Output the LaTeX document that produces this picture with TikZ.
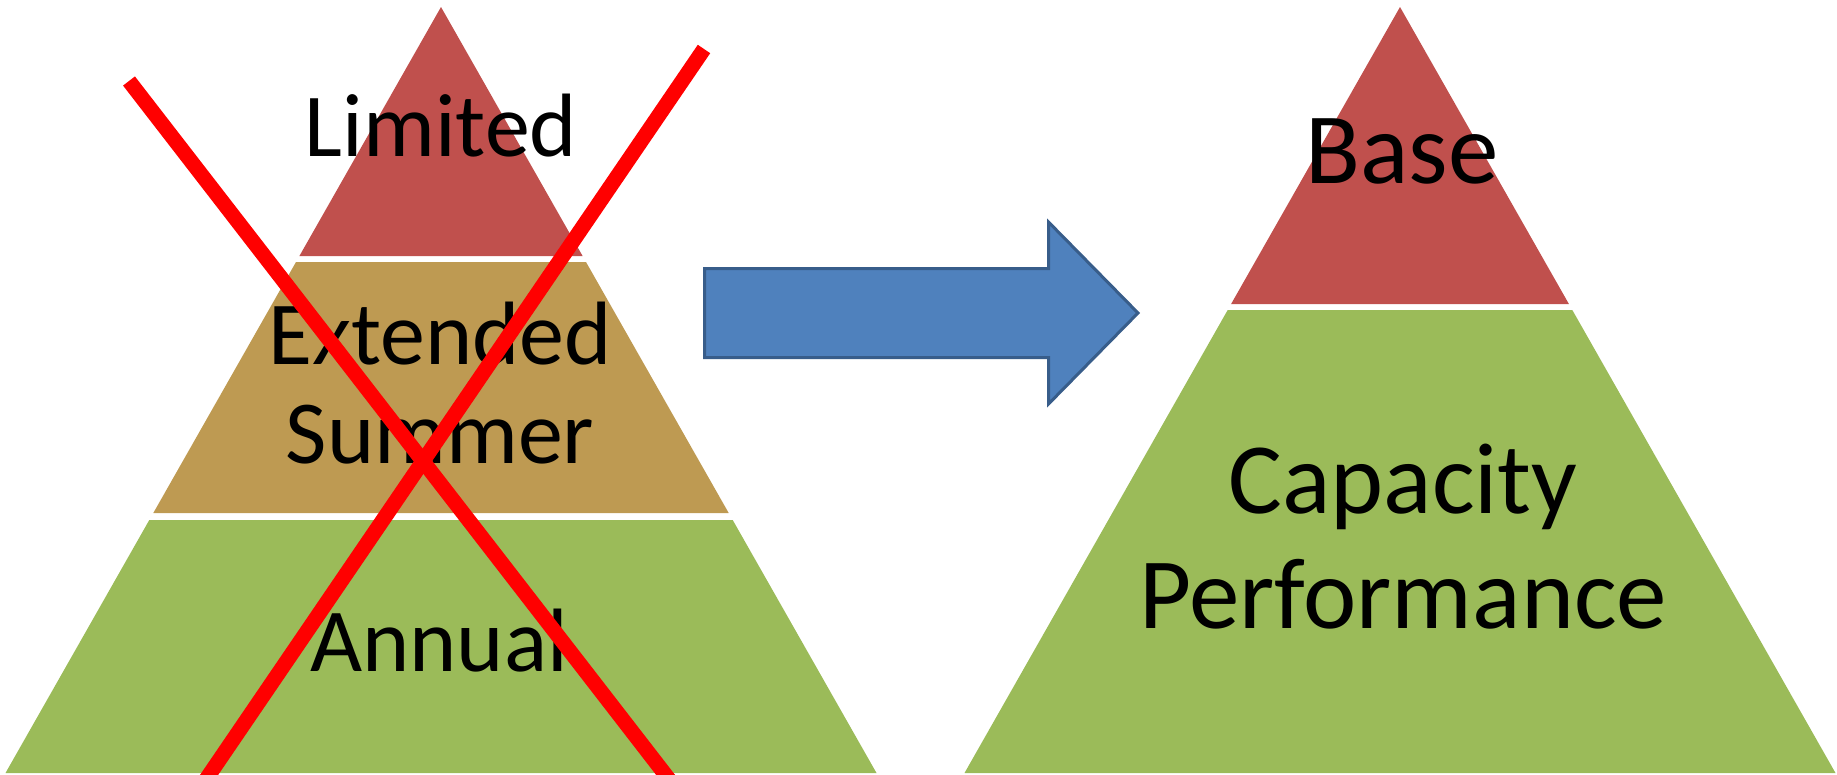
\documentclass[tikz,border=0pt]{standalone}
\usepackage{fontspec}
\setmainfont{Carlito}

\definecolor{bandred}{HTML}{C0504D}
\definecolor{bandtan}{HTML}{BE9A52}
\definecolor{bandgreen}{HTML}{9BBB59}
\definecolor{arrowblue}{HTML}{4F81BD}
\definecolor{arrowedge}{HTML}{385D8A}

\begin{document}
\begin{tikzpicture}[x=1pt,y=-1pt,
    tier/.style={inner sep=0pt,anchor=base,align=center},
    oldtier/.style={tier,font=\fontsize{90}{99}\selectfont},
    newtier/.style={tier,font=\fontsize{101}{115}\selectfont}]
      \useasboundingbox (0,0) rectangle (1837,774);

      % old pyramid
      \fill [bandred] (441,7) -- (582.6,256) -- (299.4,256) -- cycle;
      \fill [bandtan] (296,262) -- (586,262) -- (728.7,513) -- (153.3,513) -- cycle;
      \fill [bandgreen] (149.3,520) -- (732.7,520) -- (876.5,773) -- (5.5,773) -- cycle;
      \node [oldtier] (limited) at (441,156) {Limited};
      \node [oldtier] (extended) at (440,463) {Extended\\Summer};
      \node [oldtier] (annual) at (439,671) {Annual};

      % crossed out
      \begin{scope}
        \clip (0,0) rectangle (1837,774);
        \draw [red, line width=15] (129,81) -- (685,800);
        \draw [red, line width=15] (704,49) -- (192,800);
      \end{scope}

      \draw [arrowedge, fill=arrowblue, line width=3]
        (704.5,268.5) -- (1048.5,268.5) -- (1048.5,222) -- (1138,313)
        -- (1048.5,404) -- (1048.5,357.5) -- (704.5,357.5) -- cycle;

      % new pyramid
      \fill [bandred] (1400,7) -- (1568.9,304) -- (1231.1,304) -- cycle;
      \fill [bandgreen] (1227.7,310) -- (1572.3,310) -- (1835.5,773) -- (964.5,773) -- cycle;
      \node [newtier] (base) at (1402,183) {Base};
      \node [newtier] (capacity) at (1403,628) {Capacity\\Performance};
    \end{tikzpicture}
\end{document}
